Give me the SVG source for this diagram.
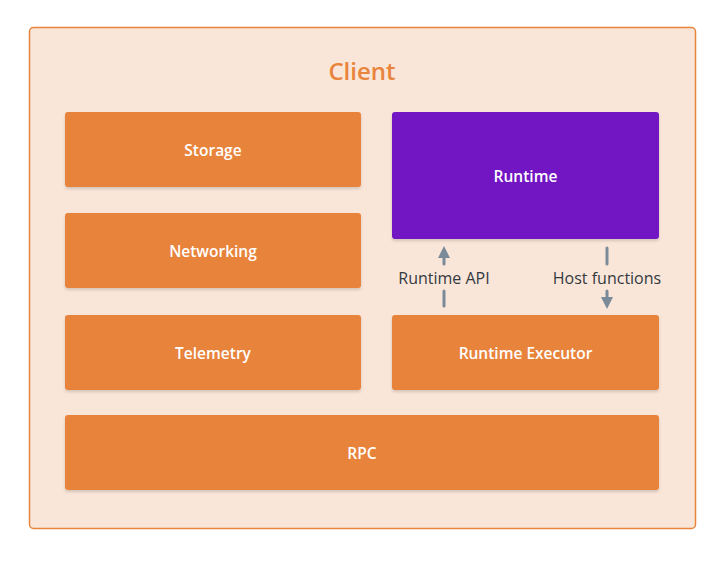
<svg xmlns="http://www.w3.org/2000/svg" width="725" height="561" viewBox="0 0 725 561">
<style>
.box{fill:#e8833a;}
.purple{fill:#7119c2;}
.lbl{font-family:"Open Sans","Liberation Sans",sans-serif;font-size:15.5px;font-weight:600;fill:#ffffff;text-anchor:middle;dominant-baseline:central;}
.elbl{font-family:"Open Sans","Liberation Sans",sans-serif;font-size:16px;fill:#333a40;text-anchor:middle;dominant-baseline:central;}
.conn{stroke:#7a8a99;stroke-width:3;stroke-linecap:round;fill:none;}
</style>
<defs>
<filter id="sh" x="-5%" y="-10%" width="110%" height="130%">
<feDropShadow dx="0" dy="2" stdDeviation="1.5" flood-color="#000" flood-opacity="0.15"/>
</filter>
<marker id="ah" viewBox="0 0 10 10" refX="5" refY="5" markerWidth="4" markerHeight="4" orient="auto">
<path d="M0,0 L10,5 L0,10 z" fill="#7a8a99"/>
</marker>
</defs>
<rect width="725" height="561" fill="#ffffff"/>
<g id="client">
<rect x="29.5" y="27.5" width="666" height="501" rx="4" fill="#fae6d9" stroke="#e8843c" stroke-width="1.5"/>
<text x="362" y="70" font-family="'Open Sans','Liberation Sans',sans-serif" font-size="24" font-weight="600" fill="#e8843c" text-anchor="middle" dominant-baseline="central">Client</text>
</g>
<g id="storage"><rect class="box" x="65" y="112" width="296" height="75" rx="3" filter="url(#sh)"/><text class="lbl" x="213" y="150">Storage</text></g>
<g id="networking"><rect class="box" x="65" y="213" width="296" height="75" rx="3" filter="url(#sh)"/><text class="lbl" x="213" y="251">Networking</text></g>
<g id="telemetry"><rect class="box" x="65" y="315" width="296" height="75" rx="3" filter="url(#sh)"/><text class="lbl" x="213" y="353">Telemetry</text></g>
<g id="runtime"><rect class="purple" x="392" y="112" width="267" height="127" rx="3" filter="url(#sh)"/><text class="lbl" x="525.5" y="176">Runtime</text></g>
<g id="executor"><rect class="box" x="392" y="315" width="267" height="75" rx="3" filter="url(#sh)"/><text class="lbl" x="525.5" y="353">Runtime Executor</text></g>
<g id="rpc"><rect class="box" x="65" y="415" width="594" height="75" rx="3" filter="url(#sh)"/><text class="lbl" x="362" y="453">RPC</text></g>
<g id="connectors">
<line class="conn" x1="444" y1="306" x2="444" y2="291"/>
<line class="conn" x1="444" y1="264" x2="444" y2="252" marker-end="url(#ah)"/>
<text class="elbl" x="444" y="278">Runtime API</text>
<line class="conn" x1="607" y1="248" x2="607" y2="264"/>
<line class="conn" x1="607" y1="291" x2="607" y2="303" marker-end="url(#ah)"/>
<text class="elbl" x="607" y="278">Host functions</text>
</g>
</svg>
